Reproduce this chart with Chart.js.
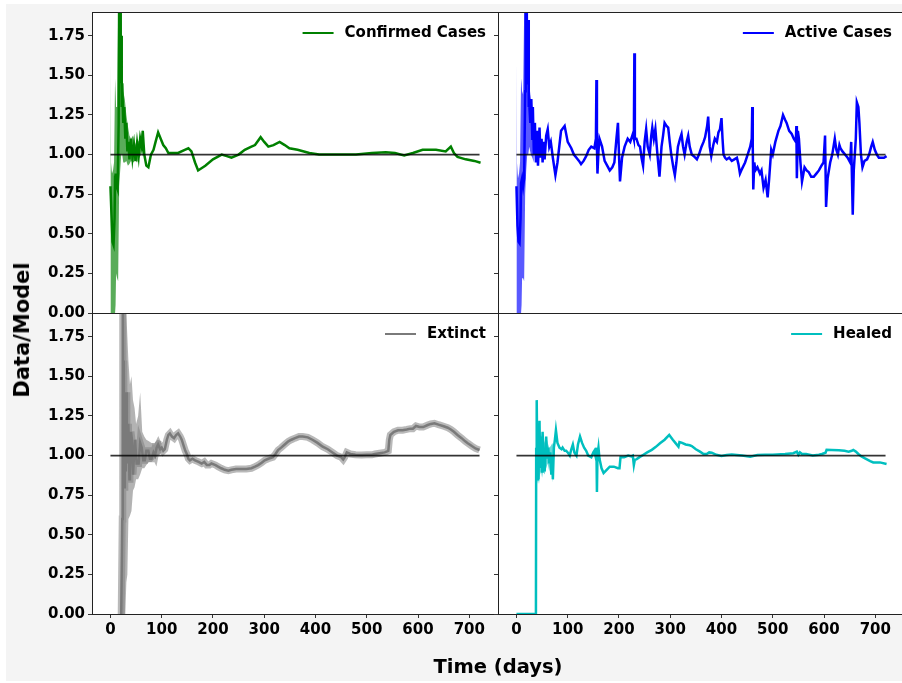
<!DOCTYPE html>
<html>
<head>
<meta charset="utf-8">
<title>Data/Model</title>
<script src="https://cdn.jsdelivr.net/npm/chart.js@4.4.1/dist/chart.umd.min.js"></script>
<style>
  html, body { margin: 0; padding: 0; background: #fff; }
  #fig { position: relative; width: 902px; height: 683px; overflow: hidden; }
  #figBg { position: absolute; left: 6px; top: 4px; width: 896px; height: 677px; background: #f4f4f4; }
  #fig canvas { position: absolute; left: 0; top: 0; }
  .title { position: absolute; font-family: 'DejaVu Sans', sans-serif; font-weight: bold; color: #000; white-space: nowrap; }
  #ylab { left: 22px; top: 330px; transform: translate(-50%, -50%) rotate(-90deg); font-size: 21px; }
  #xlab { left: 498px; top: 666px; transform: translate(-50%, -50%); font-size: 19.5px; }
</style>
</head>
<body>
<div id="fig">
  <div id="figBg"></div>
  <canvas id="cTL" width="915" height="683"></canvas>
  <canvas id="cTR" width="915" height="683"></canvas>
  <canvas id="cBL" width="915" height="683"></canvas>
  <canvas id="cBR" width="915" height="683"></canvas>
  <div class="title" id="ylab">Data/Model</div>
  <div class="title" id="xlab">Time (days)</div>
</div>
<script>
// ---------- axes ----------
const xTicks = [0, 100, 200, 300, 400, 500, 600, 700];
const yTicks = [0, 0.25, 0.5, 0.75, 1.0, 1.25, 1.5, 1.75];
const xRange = [-36, 756];
const yRange = [0, 1.9];

// reference line Data/Model = 1
const refDays = [0, 720];
const refValues = [1, 1];

// ---------- Confirmed Cases ----------
const confDays = [0, 2, 4, 6, 8, 9, 10, 12, 14, 16, 17, 18, 19, 20, 21, 22, 23, 25, 27, 29, 31, 33, 35, 37, 40, 43, 46, 49, 52, 55, 58, 61, 63, 66, 70, 74, 79, 84, 88, 93, 98, 103, 108, 113, 120, 132, 145, 152, 158, 165, 171, 185, 200, 217, 227, 236, 250, 262, 275, 282, 293, 300, 308, 318, 330, 340, 349, 365, 388, 407, 440, 479, 510, 537, 555, 573, 590, 609, 635, 654, 664, 670, 677, 693, 710, 722];
const confValues = [0.80, 0.62, 0.45, 0.43, 0.60, 0.86, 0.88, 0.80, 0.78, 1.20, 2.0, 1.55, 2.0, 1.45, 1.75, 1.30, 1.45, 1.20, 1.30, 1.10, 1.20, 1.02, 1.08, 0.97, 1.10, 0.98, 1.06, 0.96, 1.07, 0.99, 1.10, 1.05, 1.15, 1.00, 0.93, 0.92, 1.00, 1.03, 1.08, 1.14, 1.10, 1.06, 1.04, 1.01, 1.01, 1.01, 1.03, 1.04, 1.02, 0.95, 0.90, 0.93, 0.97, 1.00, 0.99, 0.98, 1.00, 1.03, 1.05, 1.06, 1.11, 1.08, 1.05, 1.06, 1.08, 1.06, 1.04, 1.03, 1.01, 1.00, 1.00, 1.00, 1.01, 1.015, 1.01, 0.995, 1.01, 1.03, 1.03, 1.02, 1.05, 1.01, 0.985, 0.97, 0.96, 0.948];
const confBandDays = [0, 1, 3, 5, 7, 9, 10, 11, 13, 15, 17, 19, 21, 23, 25, 28, 31, 34, 37, 40, 44, 48, 52, 56, 60, 63];
const confBandLow = [0, 0, 0, 0, 0, 0, 0.05, 0.25, 0.22, 0.20, 0.80, 0.90, 1.00, 1.00, 0.95, 0.95, 0.96, 0.93, 0.94, 0.96, 0.95, 0.96, 0.95, 0.98, 1.00, 1.08];
const confBandHigh = [1.60, 0.95, 0.88, 0.90, 0.95, 1.48, 1.40, 1.30, 1.30, 1.90, 2.0, 2.0, 1.90, 1.60, 1.40, 1.35, 1.25, 1.18, 1.12, 1.10, 1.12, 1.06, 1.10, 1.08, 1.12, 1.16];

// ---------- Active Cases ----------
const actDays = [0, 2, 4, 6, 8, 9, 11, 13, 15, 17, 18, 19, 20, 21, 22, 23, 24, 25, 27, 29, 31, 32, 34, 35, 36, 38, 40, 42, 45, 47, 49, 51, 53, 55, 58, 61, 64, 67, 71, 76, 80, 87, 94, 100, 107, 112, 117, 122, 126, 131, 136, 141, 146, 152, 155, 156, 157, 158, 160, 162, 167, 172, 177, 182, 187, 191, 195, 198, 200, 202, 206, 211, 217, 222, 227, 229, 230, 231, 234, 238, 241, 244, 247, 250, 253, 256, 260, 263, 265, 268, 271, 275, 279, 283, 286, 289, 293, 296, 299, 302, 306, 309, 312, 315, 319, 322, 325, 328, 332, 335, 338, 342, 346, 352, 356, 361, 365, 368, 372, 374, 377, 380, 384, 387, 391, 394, 397, 400, 402, 404, 407, 410, 415, 420, 425, 430, 433, 436, 440, 446, 451, 456, 459, 460, 461, 462, 464, 466, 470, 475, 478, 482, 486, 490, 493, 497, 500, 505, 511, 515, 520, 524, 527, 532, 537, 541, 545, 546, 547, 549, 551, 554, 557, 562, 566, 570, 575, 580, 585, 590, 595, 599, 602, 604, 607, 612, 616, 621, 624, 627, 630, 632, 636, 641, 646, 651, 653, 656, 658, 660, 662, 664, 667, 669, 672, 675, 679, 684, 688, 692, 695, 699, 703, 707, 712, 717, 722];
const actValues = [0.80, 0.55, 0.45, 0.44, 0.60, 0.82, 0.85, 0.80, 0.85, 1.40, 2.0, 1.45, 2.0, 1.50, 1.45, 1.85, 1.30, 1.32, 1.20, 1.35, 1.10, 1.30, 1.00, 1.05, 1.20, 0.95, 1.15, 0.93, 1.17, 0.98, 1.10, 0.95, 1.08, 0.97, 1.12, 1.16, 1.05, 1.08, 0.98, 0.87, 0.95, 1.15, 1.18, 1.08, 1.04, 1.00, 0.98, 0.96, 0.94, 0.96, 0.99, 1.03, 1.05, 1.04, 1.10, 1.47, 1.05, 0.88, 1.02, 1.10, 1.05, 0.96, 0.93, 0.90, 0.92, 0.95, 1.10, 1.20, 1.00, 0.83, 0.98, 1.05, 1.10, 1.08, 1.13, 1.10, 1.64, 1.10, 1.10, 1.06, 1.05, 0.98, 0.93, 1.08, 1.16, 1.05, 1.00, 1.12, 1.17, 1.10, 1.16, 1.00, 0.86, 1.05, 1.12, 1.20, 1.18, 1.17, 1.08, 1.00, 0.92, 0.87, 0.95, 1.05, 1.10, 1.13, 1.05, 1.00, 1.08, 1.12, 1.05, 1.00, 0.99, 0.97, 1.00, 1.05, 1.08, 1.11, 1.18, 1.24, 1.05, 0.99, 1.06, 1.10, 1.08, 1.14, 1.16, 1.23, 1.10, 1.00, 0.98, 0.97, 0.98, 0.96, 0.97, 0.98, 0.94, 0.88, 0.91, 0.95, 1.00, 1.05, 1.10, 1.30, 1.05, 0.78, 0.95, 0.90, 0.92, 0.88, 0.90, 0.79, 0.84, 0.73, 0.85, 1.03, 1.00, 1.08, 1.15, 1.18, 1.25, 1.22, 1.20, 1.15, 1.13, 1.10, 1.08, 1.18, 0.85, 1.15, 1.10, 0.95, 0.83, 0.92, 0.90, 0.89, 0.86, 0.86, 0.88, 0.90, 0.93, 0.95, 1.12, 0.67, 0.85, 0.95, 1.00, 1.10, 1.03, 1.00, 1.06, 1.04, 1.02, 1.00, 0.98, 0.95, 1.08, 0.62, 0.90, 1.00, 1.10, 1.33, 1.30, 1.20, 1.00, 0.92, 0.96, 0.97, 1.00, 1.05, 1.08, 1.03, 1.00, 0.98, 0.98, 0.98, 0.99];
const actBandDays = [0, 1, 3, 5, 7, 9, 10, 11, 13, 15, 17, 19, 21, 23, 25, 28, 31, 34];
const actBandLow = [0, 0, 0, 0, 0, 0, 0.05, 0.22, 0.22, 0.20, 0.75, 0.90, 1.00, 1.00, 1.05, 1.00, 0.98, 0.95];
const actBandHigh = [1.60, 0.95, 0.85, 0.88, 0.95, 1.48, 1.45, 1.40, 1.38, 1.90, 2.0, 2.0, 2.0, 1.70, 1.45, 1.35, 1.30, 1.15];

// ---------- Extinct ----------
const extDays = [21, 22, 23, 24, 25, 26, 27, 28, 29, 30, 31, 32, 33, 35, 37, 38, 40, 42, 44, 46, 48, 51, 55, 58, 61, 64, 67, 70, 74, 77, 80, 84, 87, 90, 93, 97, 100, 103, 106, 110, 113, 116, 120, 124, 128, 132, 136, 139, 143, 146, 149, 152, 155, 160, 165, 172, 178, 183, 188, 193, 197, 205, 210, 216, 223, 230, 236, 245, 256, 265, 275, 282, 288, 295, 301, 308, 317, 322, 327, 333, 340, 347, 353, 360, 368, 375, 385, 394, 404, 414, 424, 433, 442, 450, 454, 457, 461, 468, 478, 490, 500, 510, 516, 525, 535, 542, 544, 546, 553, 561, 570, 578, 585, 590, 596, 603, 610, 619, 625, 632, 640, 650, 658, 664, 670, 677, 685, 692, 697, 705, 712, 720];
const extValues = [0.0, 0.0, 0.60, 2.0, 1.10, 1.60, 0.80, 1.30, 1.25, 0.90, 1.40, 0.95, 1.05, 1.20, 0.85, 0.90, 1.15, 1.10, 0.88, 1.00, 1.10, 0.95, 0.95, 1.08, 1.05, 0.97, 0.97, 1.03, 1.03, 0.98, 0.98, 1.02, 1.00, 1.05, 1.07, 1.04, 1.05, 1.03, 1.04, 1.10, 1.13, 1.14, 1.12, 1.11, 1.13, 1.14, 1.12, 1.10, 1.06, 1.03, 1.01, 0.98, 0.97, 0.98, 0.97, 0.96, 0.95, 0.96, 0.94, 0.94, 0.95, 0.94, 0.93, 0.92, 0.91, 0.905, 0.91, 0.915, 0.915, 0.915, 0.92, 0.93, 0.94, 0.955, 0.97, 0.98, 0.99, 1.01, 1.035, 1.05, 1.07, 1.09, 1.10, 1.11, 1.12, 1.12, 1.115, 1.10, 1.08, 1.056, 1.04, 1.02, 1.00, 0.99, 0.975, 0.99, 1.02, 1.01, 1.005, 1.004, 1.005, 1.005, 1.01, 1.015, 1.02, 1.03, 1.10, 1.13, 1.15, 1.16, 1.16, 1.165, 1.17, 1.17, 1.187, 1.18, 1.18, 1.193, 1.20, 1.204, 1.195, 1.185, 1.176, 1.165, 1.15, 1.13, 1.11, 1.09, 1.078, 1.06, 1.045, 1.035];
const extBandDays = [21, 23, 25, 27, 29, 31, 33, 35, 38, 41, 44, 47, 50, 54, 58, 62, 66, 70, 75, 80, 86, 92, 100];
const extBandLow = [0, 0, 0, 0, 0, 0.20, 0.25, 0.60, 0.62, 0.65, 0.78, 0.80, 0.85, 0.85, 0.88, 0.92, 0.92, 0.94, 0.96, 0.96, 0.98, 1.00, 1.02];
const extBandHigh = [0.50, 2.0, 2.0, 2.0, 2.0, 1.90, 1.75, 1.60, 1.45, 1.50, 1.35, 1.30, 1.20, 1.25, 1.40, 1.15, 1.12, 1.10, 1.09, 1.08, 1.08, 1.10, 1.09];

// ---------- Healed ----------
const healDays = [0, 38, 38.5, 39, 40, 41, 42, 43, 45, 46, 48, 49, 50, 51, 53, 55, 57, 58, 60, 62, 64, 66, 68, 70, 71, 73, 75, 77, 80, 84, 88, 90, 94, 97, 100, 104, 107, 110, 113, 117, 120, 124, 128, 132, 136, 140, 146, 150, 152, 154, 156, 157, 158, 160, 162, 166, 170, 176, 182, 190, 198, 201, 203, 210, 218, 224, 227, 229, 231, 234, 240, 247, 255, 264, 272, 280, 289, 298, 305, 310, 316, 318, 322, 330, 338, 342, 350, 358, 365, 371, 376, 381, 390, 400, 410, 420, 440, 456, 470, 485, 500, 524, 540, 547, 550, 553, 557, 565, 578, 590, 596, 603, 605, 615, 629, 640, 648, 654, 657, 662, 667, 673, 680, 690, 696, 709, 722];
const healValues = [0, 0, 1.05, 0.90, 1.35, 0.85, 1.10, 0.85, 1.22, 0.95, 0.93, 1.12, 0.90, 1.15, 0.95, 0.90, 1.05, 1.12, 0.98, 1.05, 0.95, 1.02, 0.88, 1.00, 0.85, 1.05, 1.10, 1.16, 1.08, 1.05, 1.04, 1.05, 1.03, 1.03, 1.02, 1.00, 1.04, 1.07, 1.02, 1.00, 1.07, 1.12, 1.08, 1.05, 1.03, 1.00, 0.99, 1.02, 1.03, 1.00, 1.05, 0.77, 1.00, 1.05, 0.98, 0.92, 0.89, 0.91, 0.93, 0.93, 0.92, 0.92, 0.99, 0.99, 1.00, 0.995, 1.00, 0.94, 0.975, 0.976, 0.99, 1.004, 1.02, 1.036, 1.055, 1.078, 1.10, 1.13, 1.10, 1.08, 1.056, 1.085, 1.082, 1.07, 1.065, 1.06, 1.04, 1.025, 1.01, 1.01, 1.02, 1.018, 1.005, 0.997, 1.004, 1.007, 1.00, 0.993, 1.003, 1.005, 1.006, 1.01, 1.015, 1.025, 1.005, 1.02, 1.01, 1.01, 1.00, 1.005, 1.01, 1.018, 1.036, 1.035, 1.034, 1.03, 1.025, 1.03, 1.035, 1.025, 1.01, 0.995, 0.982, 0.965, 0.957, 0.957, 0.947];
const healBandDays = [38, 40, 42, 44, 46, 48, 50, 52, 55, 58, 61, 64, 67, 70, 72, 75];
const healBandLow = [0.95, 0.82, 0.85, 0.82, 0.88, 0.90, 0.86, 0.90, 0.88, 0.92, 0.95, 0.90, 0.96, 0.83, 0.95, 1.02];
const healBandHigh = [1.10, 1.30, 1.20, 1.22, 1.15, 1.12, 1.15, 1.12, 1.08, 1.12, 1.08, 1.05, 1.06, 1.08, 1.06, 1.10];

// ---------- layout ----------
const FIG_W = 915, FIG_H = 683;
const X_AXIS_H = 40;
const FONT = "'DejaVu Sans', sans-serif";
const tickFont = { family: FONT, weight: 'bold', size: 15 };

function pts(days, vals) {
    return days.map((d, i) => ({ x: d, y: vals[i] }));
}

// white plot area, frame and the little legend in the top-right corner
const panelDecor = {
    id: 'panelDecor',
    beforeDraw(chart) {
        const a = chart.chartArea, ctx = chart.ctx;
        ctx.save();
        ctx.fillStyle = '#fff';
        ctx.fillRect(a.left, a.top, a.right - a.left, a.bottom - a.top);
        ctx.restore();
    },
    afterDatasetsDraw(chart) {
        const a = chart.chartArea, ctx = chart.ctx;
        ctx.save();
        ctx.strokeStyle = '#222';
        ctx.lineWidth = 1;
        ctx.strokeRect(a.left + 0.5, a.top + 0.5, a.right - a.left, a.bottom - a.top);
        const ds = chart.data.datasets.find(d => d.legendEntry);
        if (ds) {
            ctx.font = 'bold 15px ' + FONT;
            ctx.textBaseline = 'middle';
            ctx.textAlign = 'left';
            const w = ctx.measureText(ds.label).width;
            const tx = a.right - 12 - w;
            const ty = a.top + 21;
            ctx.fillStyle = '#000';
            ctx.fillText(ds.label, tx, ty);
            ctx.strokeStyle = ds.borderColor;
            ctx.lineWidth = 2;
            ctx.beginPath();
            ctx.moveTo(tx - 42, ty);
            ctx.lineTo(tx - 11, ty);
            ctx.stroke();
        }
        ctx.restore();
    }
};

function makePanel(id, p) {
    const datasets = [];
    if (p.bandDays) {
        datasets.push({ data: pts(p.bandDays, p.bandLow), borderWidth: 0, borderColor: 'rgba(0,0,0,0)', pointRadius: 0, fill: false, order: 5 });
        datasets.push({ data: pts(p.bandDays, p.bandHigh), borderWidth: 0, borderColor: 'rgba(0,0,0,0)', pointRadius: 0, fill: '-1', backgroundColor: p.band, order: 5 });
    }
    if (p.halo) {
        datasets.push({ data: pts(p.days, p.values), borderColor: p.halo, borderWidth: 7, pointRadius: 0, fill: false, order: 3 });
    }
    datasets.push({ label: p.label, legendEntry: true, data: pts(p.days, p.values), borderColor: p.color, borderWidth: 2.5, pointRadius: 0, fill: false, order: 2 });
    datasets.push({ data: pts(refDays, refValues), borderColor: 'rgba(0,0,0,0.8)', borderWidth: 1.8, pointRadius: 0, fill: false, order: 1 });

    const grid = { display: true, drawOnChartArea: false, drawTicks: true, tickLength: 4, color: '#333', lineWidth: 1 };

    return new Chart(document.getElementById(id), {
        type: 'line',
        data: { datasets },
        options: {
            responsive: false,
            animation: false,
            events: [],
            layout: {
                padding: {
                    left: p.rect[0] - p.yAxisW,
                    top: p.rect[1],
                    right: FIG_W - p.rect[2],
                    bottom: p.showX ? FIG_H - p.rect[3] - X_AXIS_H : FIG_H - p.rect[3]
                }
            },
            elements: { line: { tension: 0 } },
            plugins: { legend: { display: false }, tooltip: { enabled: false } },
            scales: {
                x: {
                    type: 'linear',
                    min: xRange[0], max: xRange[1],
                    display: p.showX,
                    afterBuildTicks: s => { s.ticks = xTicks.map(v => ({ value: v })); },
                    afterFit: s => { s.height = p.showX ? X_AXIS_H : 0; },
                    grid,
                    border: { display: false },
                    ticks: { font: tickFont, color: '#000', padding: 3, maxRotation: 0, callback: v => String(v) }
                },
                y: {
                    type: 'linear',
                    min: yRange[0], max: yRange[1],
                    afterBuildTicks: s => { s.ticks = yTicks.map(v => ({ value: v })); },
                    afterFit: s => { s.width = p.yAxisW; },
                    grid,
                    border: { display: false },
                    ticks: { display: p.showYLabels, font: tickFont, color: '#000', padding: 3, callback: v => v.toFixed(2) }
                }
            }
        },
        plugins: [panelDecor]
    });
}

makePanel('cTL', {
    rect: [92, 12, 498, 313], yAxisW: 92, showX: false, showYLabels: true,
    label: 'Confirmed Cases', color: '#008000', band: 'rgba(0,128,0,0.65)',
    days: confDays, values: confValues,
    bandDays: confBandDays, bandLow: confBandLow, bandHigh: confBandHigh
});
makePanel('cTR', {
    rect: [498, 12, 904, 313], yAxisW: 8, showX: false, showYLabels: false,
    label: 'Active Cases', color: '#0000ff', band: 'rgba(0,0,255,0.65)',
    days: actDays, values: actValues,
    bandDays: actBandDays, bandLow: actBandLow, bandHigh: actBandHigh
});
makePanel('cBL', {
    rect: [92, 313, 498, 614], yAxisW: 92, showX: true, showYLabels: true,
    label: 'Extinct', color: '#7a7a7a', band: 'rgba(128,128,128,0.6)', halo: 'rgba(128,128,128,0.55)',
    days: extDays, values: extValues,
    bandDays: extBandDays, bandLow: extBandLow, bandHigh: extBandHigh
});
makePanel('cBR', {
    rect: [498, 313, 904, 614], yAxisW: 8, showX: true, showYLabels: false,
    label: 'Healed', color: '#00bfbf', band: 'rgba(0,191,191,0.6)',
    days: healDays, values: healValues,
    bandDays: healBandDays, bandLow: healBandLow, bandHigh: healBandHigh
});
</script>
</body>
</html>
